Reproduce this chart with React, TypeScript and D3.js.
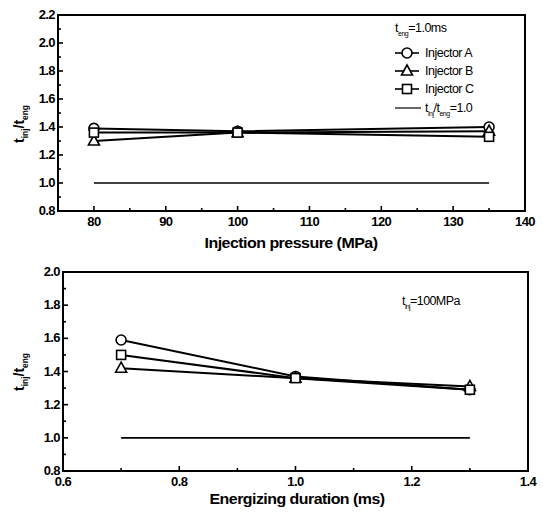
import React from 'react';
import * as d3 from 'd3';

// top panel: ratio vs injection pressure (t_eng = 1.0 ms)
const pressure = [80, 100, 135];
const pressA = [1.39, 1.37, 1.4];
const pressB = [1.3, 1.36, 1.37];
const pressC = [1.36, 1.36, 1.33];
const pressRef = [80, 135];

// bottom panel: ratio vs energizing duration (p_inj = 100 MPa)
const duration = [0.7, 1.0, 1.3];
const durA = [1.59, 1.37, 1.29];
const durB = [1.42, 1.36, 1.31];
const durC = [1.5, 1.36, 1.29];
const durRef = [0.7, 1.3];

const pressTicks = [80, 90, 100, 110, 120, 130, 140];
const pressMinor = [85, 95, 105, 115, 125, 135];
const topYTicks = [0.8, 1.0, 1.2, 1.4, 1.6, 1.8, 2.0, 2.2];
const topYMinor = [0.9, 1.1, 1.3, 1.5, 1.7, 1.9, 2.1];
const durTicks = [0.6, 0.8, 1.0, 1.2, 1.4];
const durMinor = [0.7, 0.9, 1.1, 1.3];
const botYTicks = [0.8, 1.0, 1.2, 1.4, 1.6, 1.8, 2.0];
const botYMinor = [0.9, 1.1, 1.3, 1.5, 1.7, 1.9];

const legendItems = ['Injector A', 'Injector B', 'Injector C'];
const markers = ['circle', 'triangle', 'square'];

const FONT = '"Liberation Sans", Arial, sans-serif';

const Marker = ({ type, x, y }: { type: string; x: number; y: number }) => {
  if (type === 'circle') return <circle cx={x} cy={y} r={5} fill="#fff" stroke="#000" strokeWidth={1.6} />;
  if (type === 'square') return <rect x={x - 4.5} y={y - 4.5} width={9} height={9} fill="#fff" stroke="#000" strokeWidth={1.6} />;
  const p = d3.path();
  p.moveTo(x, y - 6);
  p.lineTo(x + 5.5, y + 4);
  p.lineTo(x - 5.5, y + 4);
  p.closePath();
  return <path d={p.toString()} fill="#fff" stroke="#000" strokeWidth={1.6} />;
};

const Ratio = ({ x, y, size, rotate }: { x: number; y: number; size: number; rotate?: boolean }) => (
  <text x={x} y={y} fontFamily={FONT} fontSize={size} fontWeight="bold" textAnchor="middle"
    transform={rotate ? `rotate(-90 ${x} ${y})` : undefined}>
    t<tspan fontSize={size * 0.6} dy={size * 0.3}>inj</tspan>
    <tspan dy={-size * 0.3}>/t</tspan>
    <tspan fontSize={size * 0.6} dy={size * 0.3}>eng</tspan>
  </text>
);

type PanelProps = {
  x: d3.ScaleLinear<number, number>;
  y: d3.ScaleLinear<number, number>;
  xs: number[];
  series: number[][];
  refX: number[];
  xTicks: number[];
  xMinor: number[];
  yTicks: number[];
  yMinor: number[];
  xFmt: (v: number) => string;
  labelGap: number;
};

const Panel = ({ x, y, xs, series, refX, xTicks, xMinor, yTicks, yMinor, xFmt, labelGap }: PanelProps) => {
  const [x0, x1] = x.range();
  const [y0, y1] = y.range();
  const line = d3.line<[number, number]>().x(d => x(d[0])).y(d => y(d[1]));
  return (
    <g>
      {xTicks.map(t => (
        <g key={'xt' + t}>
          <line x1={x(t)} x2={x(t)} y1={y0} y2={y0 - 5} stroke="#000" strokeWidth={1.6} />
          <text x={x(t)} y={y0 + labelGap} textAnchor="middle" fontFamily={FONT} fontSize={13} fontWeight="bold" letterSpacing={-0.6}>{xFmt(t)}</text>
        </g>
      ))}
      {xMinor.map(t => <line key={'xm' + t} x1={x(t)} x2={x(t)} y1={y0} y2={y0 - 3} stroke="#000" strokeWidth={1.6} />)}
      {yTicks.map(t => (
        <g key={'yt' + t}>
          <line x1={x0} x2={x0 + 5} y1={y(t)} y2={y(t)} stroke="#000" strokeWidth={1.6} />
          <text x={x0 - 3} y={y(t) + 4} textAnchor="end" fontFamily={FONT} fontSize={13} fontWeight="bold" letterSpacing={-0.6}>{t.toFixed(1)}</text>
        </g>
      ))}
      {yMinor.map(t => <line key={'ym' + t} x1={x0} x2={x0 + 3} y1={y(t)} y2={y(t)} stroke="#000" strokeWidth={1.6} />)}
      <path d={line(refX.map(v => [v, 1.0]))!} fill="none" stroke="#000" strokeWidth={1.6} />
      {series.map((s, i) => (
        <path key={'l' + i} d={line(xs.map((v, j) => [v, s[j]]))!} fill="none" stroke="#000" strokeWidth={2} />
      ))}
      {series.map((s, i) => xs.map((v, j) => <Marker key={`m${i}-${j}`} type={markers[i]} x={x(v)} y={y(s[j])} />))}
      <rect x={x0} y={y1} width={x1 - x0} height={y0 - y1} fill="none" stroke="#000" strokeWidth={2} />
    </g>
  );
};

export default function App() {
  const xTop = d3.scaleLinear().domain([75, 140]).range([58, 525]);
  const yTop = d3.scaleLinear().domain([0.8, 2.2]).range([211, 15]);
  const xBot = d3.scaleLinear().domain([0.6, 1.4]).range([63, 528]);
  const yBot = d3.scaleLinear().domain([0.8, 2.0]).range([471, 272]);

  const lx = 395;
  const ly = [53, 71, 89, 108];

  return (
    <svg width={543} height={513} style={{ position: 'absolute', left: 0, top: 0, background: '#fff' }}>
      <Panel x={xTop} y={yTop} xs={pressure} series={[pressA, pressB, pressC]} refX={pressRef}
        xTicks={pressTicks} xMinor={pressMinor} yTicks={topYTicks} yMinor={topYMinor} xFmt={v => String(v)} labelGap={15} />
      <Panel x={xBot} y={yBot} xs={duration} series={[durA, durB, durC]} refX={durRef}
        xTicks={durTicks} xMinor={durMinor} yTicks={botYTicks} yMinor={botYMinor} xFmt={v => v.toFixed(1)} labelGap={15} />

      <text x={291} y={248} textAnchor="middle" fontFamily={FONT} fontSize={15} fontWeight="bold" letterSpacing={-0.5} textLength={173} lengthAdjust="spacingAndGlyphs">Injection pressure (MPa)</text>
      <text x={297} y={504} textAnchor="middle" fontFamily={FONT} fontSize={15} fontWeight="bold" letterSpacing={-0.5} textLength={175} lengthAdjust="spacingAndGlyphs">Energizing duration (ms)</text>
      <Ratio x={24} y={124} size={14} rotate />
      <Ratio x={24} y={372} size={14} rotate />

      {/* legend, top panel */}
      <text x={lx} y={32} fontFamily={FONT} fontSize={12.5} letterSpacing={-0.5}>
        t<tspan fontSize={7} dy={4}>eng</tspan><tspan dy={-4}>=1.0ms</tspan>
      </text>
      {legendItems.map((name, i) => (
        <g key={name}>
          <line x1={lx} x2={lx + 24} y1={ly[i]} y2={ly[i]} stroke="#000" strokeWidth={1.6} />
          <Marker type={markers[i]} x={lx + 12} y={ly[i]} />
          <text x={lx + 30} y={ly[i] + 4} fontFamily={FONT} fontSize={12.5} letterSpacing={-0.5}>{name}</text>
        </g>
      ))}
      <line x1={lx} x2={lx + 26} y1={ly[3]} y2={ly[3]} stroke="#000" strokeWidth={1.2} />
      <text x={lx + 30} y={ly[3] + 4} fontFamily={FONT} fontSize={12.5} letterSpacing={-0.5}>
        t<tspan fontSize={7} dy={4}>inj</tspan><tspan dy={-4}>/t</tspan><tspan fontSize={7} dy={4}>eng</tspan><tspan dy={-4}>=1.0</tspan>
      </text>

      {/* annotation, bottom panel */}
      <text x={402} y={305} fontFamily={FONT} fontSize={12.5} letterSpacing={-0.6}>
        t<tspan fontSize={7} dy={4}>inj</tspan><tspan dy={-4}>=100MPa</tspan>
      </text>
    </svg>
  );
}
